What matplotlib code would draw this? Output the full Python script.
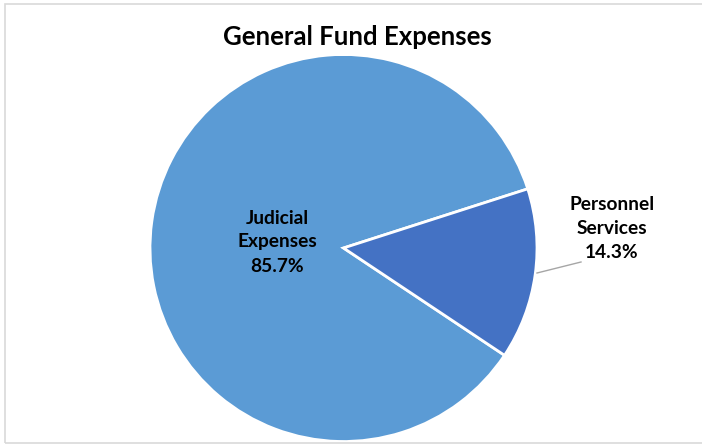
import matplotlib
matplotlib.use("Agg")
import matplotlib.pyplot as plt
from matplotlib.patches import Rectangle

title = "General Fund Expenses"
categories = ["Judicial\nExpenses", "Personnel\nServices"]
values = [85.7, 14.3]
pct_labels = ["85.7%", "14.3%"]
colors = ["#5B9BD5", "#4472C4"]

W, H = 702, 445
cx, cy, R = 343.5, 248.0, 193.5

fig = plt.figure(figsize=(W / 100, H / 100), dpi=100)
fig.patch.set_facecolor("white")
ax = fig.add_axes([0, 0, 1, 1])

start = 17.8 + 360 * values[0] / 100.0
wedges, _ = ax.pie(values, colors=colors, startangle=start, counterclock=False,
                   radius=1.0, center=(0, 0),
                   wedgeprops=dict(edgecolor="white", linewidth=2))

ax.set_aspect("auto")
ax.set_xlim(-cx / R, (W - cx) / R)
ax.set_ylim(-(H - cy) / R, cy / R)
ax.axis("off")

def px(x, y):
    return ((x - cx) / R, (cy - y) / R)

font = ["Lato", "DejaVu Sans"]
fs = 13.8

x, y = px(277, 242)
ax.text(x, y, categories[0] + "\n" + pct_labels[0], ha="center", va="center",
        fontsize=fs, fontweight="bold", family=font, linespacing=1.5, color="black")

x, y = px(612, 229)
ax.text(x, y, categories[1] + "\n" + pct_labels[1], ha="center", va="center",
        fontsize=fs, fontweight="bold", family=font, linespacing=1.5, color="black")

x0, y0 = px(537, 273)
x1, y1 = px(581, 262)
ax.plot([x0, x1], [y0, y1], color="#A6A6A6", linewidth=1)

fig.text(357 / W, 1 - 37 / H, title, ha="center", va="center",
         fontsize=18.5, fontweight="bold", family=font, color="black")

fig.patches.append(Rectangle((5 / W, 1 - 443 / H), 1.2, (443 - 4) / H,
                             transform=fig.transFigure, fill=False,
                             edgecolor="#D9D9D9", linewidth=1.2))

fig.savefig("out.png", dpi=100)
